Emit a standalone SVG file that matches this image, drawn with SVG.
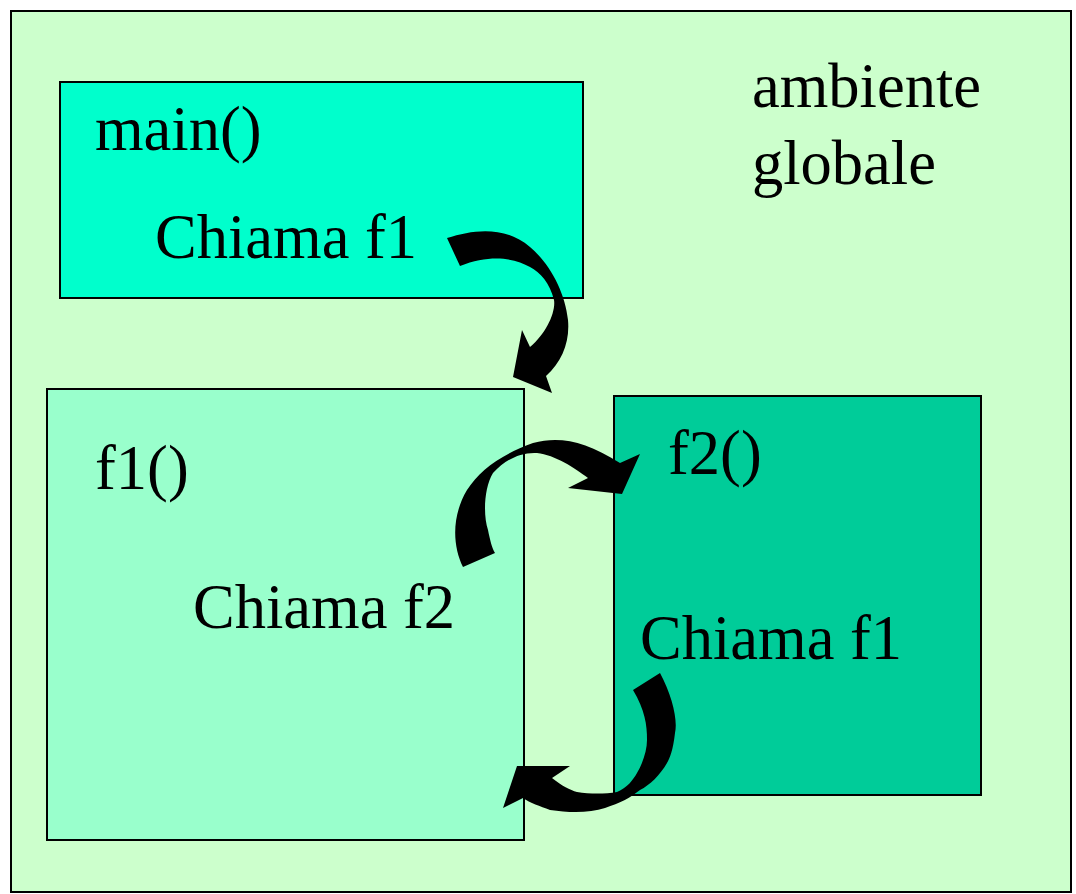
<svg xmlns="http://www.w3.org/2000/svg" width="1076" height="894" viewBox="0 0 1076 894">
<style>
.box{stroke:#000;stroke-width:2}
.t{font-family:"Liberation Serif","Times New Roman",serif;font-size:62.5px;fill:#000}
.arr{fill:#000;stroke:none}
</style>
<rect width="1076" height="894" fill="#fff"/>
<g id="globale">
<rect class="box" x="11" y="11" width="1060" height="881" fill="#CCFFCC"/>
<text class="t" x="752" y="107">ambiente</text>
<text class="t" x="752" y="184">globale</text>
</g>
<g id="main">
<rect class="box" x="60" y="82" width="523" height="216" fill="#00FFCC"/>
<text class="t" x="95" y="150">main()</text>
<text class="t" x="155" y="258">Chiama f1</text>
</g>
<g id="f1">
<rect class="box" x="47" y="389" width="477" height="451" fill="#99FFCC"/>
<text class="t" x="95" y="489">f1()</text>
<text class="t" x="193" y="628">Chiama f2</text>
</g>
<g id="f2">
<rect class="box" x="614" y="396" width="367" height="399" fill="#00CC99"/>
<text class="t" x="668" y="474">f2()</text>
<text class="t" x="640" y="659">Chiama f1</text>
</g>
<g id="connectors">
<path class="arr" d="M447,238 C475,229 505,226 530,247 C550,264 565,292 568,320 C570,342 562,362 546,376 L552,393 L513,377 L522,330 L530,347 C546,334 556,312 554,300 C550,283 540,272 530,267 C515,258 490,254 460,266 Z"/>
<path class="arr" d="M463,567 C452,545 452,515 467,490 C480,470 500,455 533,443 C560,436 585,441 620,463 L640,454 L622,494 L568,488 L588,478 C575,468 555,455 537,453 C520,452 505,460 493,473 C484,488 483,515 488,530 C490,540 492,548 495,553 Z"/>
<path class="arr" d="M633,690 L660,673 C672,695 678,720 675,733 C673,750 670,758 667,763 C660,775 650,785 640,790 C630,798 620,803 605,808 C590,813 570,813 550,810 C540,806 530,803 523,798 L503,808 L517,766 L570,766 L552,778 C562,786 570,790 577,792 C590,794 605,794 617,792 C627,788 633,780 637,773 C643,763 647,750 647,740 C647,725 645,710 633,690 Z"/>
</g>
</svg>
